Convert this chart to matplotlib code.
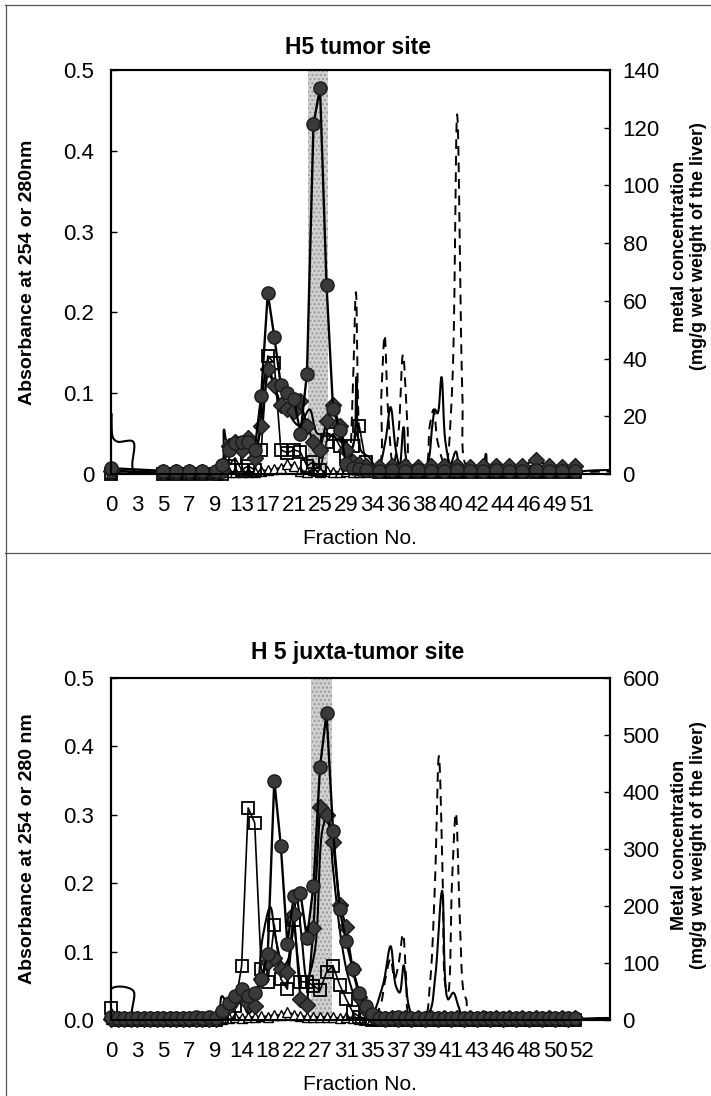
import numpy as np
import matplotlib
matplotlib.use("Agg")
import matplotlib.pyplot as plt
from matplotlib.lines import Line2D

plt.rcParams['font.family'] = ['Liberation Sans', 'DejaVu Sans']

W, H = 711, 1096

# x axis is a category axis: one row per collected tube, a label every 4th row
tick_rows = [0, 4, 8, 12, 16, 20, 24, 28, 32, 36, 40, 44, 48, 52, 56, 60, 64, 68, 72]
top_ticklabels = ['0', '3', '5', '7', '9', '13', '17', '21', '25', '29', '34', '36',
                  '38', '40', '42', '44', '46', '49', '51']
low_ticklabels = ['0', '3', '5', '7', '9', '14', '18', '22', '27', '31', '35', '37',
                  '39', '41', '43', '46', '48', '50', '52']

# ---- H5 tumor site ----
# metal concentration (mg/g wet weight), right axis
top_rows = [0, 8, 10, 12, 14, 16,
            17, 18, 19, 20, 21, 22, 23, 24, 25, 26, 27, 28, 29, 30, 31, 32, 33, 34, 35, 36,
            37, 38,
            39, 41, 43, 45, 47, 49, 51, 53, 55, 57, 59, 61, 63, 65, 67, 69, 71]
top_circle = [2.0, 1.1, 1.1, 1.1, 1.1, 1.1,
              3.1, 8.4, 10.6, 11.2, 11.2, 8.4, 27.2, 62.7, 47.6, 30.8, 28.0, 26.0, 14.0, 34.7,
              121.2, 133.8, 65.5, 22.4, 15.4, 3.4,
              2.0, 1.7,
              1.4, 1.1, 1.4, 1.1, 1.4, 1.1, 1.1, 1.4, 1.1, 1.1, 1.4, 1.1, 1.1, 1.4, 1.1, 1.1, 1.1]
top_diamond = [1.1, 0.6, 0.6, 0.6, 0.6, 0.6,
               1.1, 9.8, 11.2, 8.4, 12.6, 5.6, 16.8, 36.4, 30.8, 23.8, 22.4, 21.8, 25.2, 16.8,
               11.2, 8.4, 18.2, 23.8, 16.8, 8.4,
               4.2, 3.4,
               2.8, 2.5, 2.8, 2.8, 2.5, 2.8, 2.8, 2.8, 2.5, 2.8, 2.8, 2.8, 2.8, 5.0, 2.8, 2.5, 2.8]
top_square = [0.0, 0.0, 0.0, 0.0, 0.0, 0.0,
              0.0, 2.8, 5.6, 1.4, 2.8, 1.4, 8.4, 40.9, 38.4, 8.4, 7.3, 8.4, 7.6, 2.8,
              4.2, 1.4, 11.2, 14.0, 9.8, 5.6,
              9.8, 16.8,
              4.2, 0.6, 0.6, 0.6, 0.6, 0.6, 0.6, 0.6, 0.6, 0.6, 0.6, 0.6, 0.6, 0.6, 0.6, 0.6, 0.6]
top_triangle = [0.3, 0.3, 0.3, 0.3, 0.3, 0.3,
                0.6, 0.6, 0.8, 0.6, 0.8, 0.6, 1.1, 1.4, 1.7, 2.2, 3.6, 2.8, 1.1, 0.8,
                1.4, 0.8, 1.1, 0.8, 0.8, 1.1,
                0.8, 0.6,
                0.6, 0.6, 0.8, 0.6, 0.6, 0.6, 0.8, 0.6, 0.6, 0.6, 0.6, 0.8, 0.6, 0.6, 0.6, 0.6, 0.6]
# absorbance traces, left axis
top_a280_x = [0, 0.05, 0.3, 1, 3.4, 3.5, 8, 16.5, 17.3, 17.8, 20, 22, 23.2, 24, 25.2, 26.8,
              28.8, 30.4, 31.6, 33.2, 35.2, 36.8, 37.6, 38.2, 39.6, 40.8, 42, 42.8, 43.6,
              44.2, 44.8, 45.6, 48, 49.2, 49.6, 50, 50.6, 51.2, 52, 52.8, 53.6, 56.8, 57.4,
              58, 76.4]
top_a280_y = [0.0, 0.075, 0.045, 0.04, 0.04, 0.004, 0.003, 0.003, 0.055, 0.04, 0.04, 0.03,
              0.1, 0.14, 0.1, 0.08, 0.06, 0.08, 0.05, 0.05, 0.04, 0.03, 0.12, 0.03, 0.02,
              0.005, 0.04, 0.083, 0.03, 0.01, 0.058, 0.01, 0.005, 0.06, 0.08, 0.075, 0.12,
              0.04, 0.012, 0.028, 0.008, 0.005, 0.025, 0.005, 0.005]
top_a254_x = [0, 36, 36.4, 37, 37.5, 38, 38.6, 40.8, 41.4, 41.9, 42.4, 43.2, 44, 44.7, 45.4,
              46, 48, 48.8, 49.4, 50, 51.2, 52.2, 53, 53.8, 54.4, 56, 76.4]
top_a254_y = [0.002, 0.004, 0.01, 0.1, 0.225, 0.05, 0.01, 0.005, 0.1, 0.172, 0.08, 0.01,
              0.05, 0.148, 0.06, 0.005, 0.005, 0.06, 0.08, 0.04, 0.01, 0.1, 0.445, 0.1,
              0.01, 0.003, 0.003]
top_band = (30.1, 33.2)

# ---- H 5 juxta-tumor site ----
low_rows = np.arange(72)
low_circle = [4.8, 3.6, 3.6, 3.6, 3.6, 3.6, 3.6, 3.6, 3.6, 3.6, 3.6, 3.6, 3.6, 6.0, 4.0, 6.0, 4.0,
              15.6, 30, 42, 54, 42, 48, 72, 116, 420, 306, 134, 218, 223, 143, 235, 444, 539,
              332, 194, 138, 90, 48, 24, 10,
              3.6, 3.6, 3.6, 4.8, 3.6, 3.6, 3.6, 3.6, 3.6, 3.6, 3.6, 3.6, 3.6, 3.6, 3.6, 3.6,
              3.6, 3.6, 3.6, 3.6, 3.6, 3.6, 3.6, 3.6, 3.6, 3.6, 3.6, 3.6, 3.6, 3.6, 3.6]
low_diamond = [2.4, 2.4, 2.4, 2.4, 2.4, 2.4, 2.4, 2.4, 2.4, 2.4, 2.4, 2.4, 2.4, 2.4, 2.4, 2.4, 2.4,
               12, 24, 36, 42, 30, 24, 72, 102, 108, 90, 84, 186, 36, 26, 162, 374, 359, 312,
               202, 164, 89, 41, 18, 7,
               3.6, 2.4, 3.6, 2.4, 3.6, 2.4, 3.6, 2.4, 3.6, 2.4, 3.6, 2.4, 3.6, 2.4, 3.6, 2.4,
               3.6, 2.4, 3.6, 2.4, 3.6, 2.4, 3.6, 2.4, 3.6, 2.4, 3.6, 2.4, 3.6, 2.4, 3.6]
low_square = [21.6, 0, 0, 0, 0, 0, 0, 0, 0, 0, 0, 0, 0, 0, 0, 0, 0,
              6, 12, 24, 95, 372, 346, 89, 66, 167, 72, 54, 175, 67, 67, 60, 52, 84, 95, 62,
              37, 14, 6, 2, 0,
              0, 0, 0, 0, 0, 0, 0, 0, 0, 0, 0, 0, 0, 0, 0, 0, 0, 0, 0, 0, 0, 0, 0, 0, 0, 0,
              0, 0, 0, 0, 0]
low_triangle = [1.2, 1.2, 1.2, 1.2, 1.2, 1.2, 1.2, 1.2, 1.2, 1.2, 1.2, 1.2, 1.2, 1.2, 1.2, 1.2, 1.2,
                2.4, 3.6, 4.8, 3.6, 6.0, 4.8, 7.2, 6.0, 9.6, 8.4, 14.4, 9.6, 7.2, 6.0, 6.0, 4.8,
                6.0, 4.8, 3.6, 6.0, 3.6, 2.4, 2.4, 1.2,
                1.2, 1.2, 1.2, 1.2, 1.2, 1.2, 1.2, 1.2, 1.2, 1.2, 1.2, 1.2, 1.2, 1.2, 1.2, 1.2,
                1.2, 1.2, 1.2, 1.2, 1.2, 1.2, 1.2, 1.2, 1.2, 1.2, 1.2, 1.2, 1.2, 1.2, 1.2]
low_a280_x = [0, 0.1, 3.4, 3.5, 16, 17, 18, 19, 20, 21, 22, 23.2, 24.4, 25.2, 26.4, 27.2, 28.4,
              29.2, 30, 31.2, 32.4, 33.2, 34, 35.2, 36.4, 38, 39.6, 41.6, 42.8, 43.6, 44.2,
              44.8, 45.6, 46.4, 48.6, 49.6, 50.7, 51.6, 52.4, 53.2, 54, 56.8, 57.4, 58, 76.4]
low_a280_y = [0.002, 0.046, 0.043, 0.002, 0.002, 0.035, 0.02, 0.04, 0.03, 0.01, 0.02, 0.12,
              0.165, 0.12, 0.08, 0.09, 0.177, 0.12, 0.06, 0.1, 0.28, 0.3, 0.22, 0.12, 0.06,
              0.02, 0.004, 0.05, 0.108, 0.05, 0.04, 0.08, 0.02, 0.003, 0.01, 0.06, 0.189,
              0.03, 0.04, 0.02, 0.003, 0.003, 0.012, 0.003, 0.003]
low_a254_x = [0, 40, 41.2, 42, 42.8, 43.4, 44, 44.7, 45.2, 45.8, 48, 48.8, 49.6, 50.2, 50.8,
              51.2, 51.6, 52.2, 52.8, 53.4, 54, 54.4, 55, 76.4]
low_a254_y = [0.001, 0.003, 0.02, 0.06, 0.09, 0.06, 0.08, 0.126, 0.06, 0.005, 0.005, 0.05,
              0.2, 0.386, 0.2, 0.05, 0.04, 0.2, 0.303, 0.15, 0.04, 0.03, 0.005, 0.002]
low_band = (30.6, 33.8)


def smooth(xs, ys, sx, sy, n=10):
    # centripetal Catmull-Rom through the read points (Excel "smoothed line")
    P = np.column_stack([np.asarray(xs, float) / sx, np.asarray(ys, float) / sy])
    P = np.vstack([2 * P[0] - P[1], P, 2 * P[-1] - P[-2]])
    segs = []
    for i in range(1, len(P) - 2):
        p0, p1, p2, p3 = P[i - 1], P[i], P[i + 1], P[i + 2]
        t0 = 0.0
        t1 = t0 + max(np.hypot(*(p1 - p0)), 1e-9) ** 0.5
        t2 = t1 + max(np.hypot(*(p2 - p1)), 1e-9) ** 0.5
        t3 = t2 + max(np.hypot(*(p3 - p2)), 1e-9) ** 0.5
        t = np.linspace(t1, t2, n)[:, None]
        A1 = (t1 - t) / (t1 - t0) * p0 + (t - t0) / (t1 - t0) * p1
        A2 = (t2 - t) / (t2 - t1) * p1 + (t - t1) / (t2 - t1) * p2
        A3 = (t3 - t) / (t3 - t2) * p2 + (t - t2) / (t3 - t2) * p3
        B1 = (t2 - t) / (t2 - t0) * A1 + (t - t0) / (t2 - t0) * A2
        B2 = (t3 - t) / (t3 - t1) * A2 + (t - t1) / (t3 - t1) * A3
        C = (t2 - t) / (t2 - t1) * B1 + (t - t1) / (t2 - t1) * B2
        segs.append(C)
    C = np.vstack(segs)
    return C[:, 0] * sx, np.clip(C[:, 1] * sy, 0, None)


fig = plt.figure(figsize=(W / 100, H / 100), dpi=100)

# scanned page frame
for (x0, y0, x1, y1) in [(5, 5, 711, 5), (6, 5, 6, 1096), (5, 553, 711, 553)]:
    fig.add_artist(Line2D([x0 / W, x1 / W], [1 - y0 / H, 1 - y1 / H],
                          color='#555555', lw=0.9, transform=fig.transFigure))


def panel(top, bottom, title, title_y, rows, circ, diam, sq, tri,
          a280x, a280y, a254x, a254y, band, ticklabels, rmax, rstep,
          ylab_left, ylab_right, zero_label, rlab_y):
    left, right = 111, 610
    ax = fig.add_axes([left / W, 1 - bottom / H, (right - left) / W, (bottom - top) / H])
    xmax = 76.4
    sx = xmax / (right - left)
    sy = 0.5 / (bottom - top)

    ax.axvspan(band[0], band[1], facecolor='#d0d0d0', edgecolor='#9a9a9a',
               hatch='....', lw=0, zorder=0)
    x, y = smooth(a280x, a280y, sx, sy)
    ax.plot(x, y, color='black', lw=1.5, zorder=2)
    x, y = smooth(a254x, a254y, sx, sy)
    ax.plot(x, y, color='black', lw=1.4, dashes=(5, 3.5), zorder=2)

    ax.set_xlim(0, xmax)
    ax.set_ylim(0, 0.5)
    ax.set_yticks([0, 0.1, 0.2, 0.3, 0.4, 0.5])
    ax.set_yticklabels([zero_label, '0.1', '0.2', '0.3', '0.4', '0.5'])
    ax.set_xticks(tick_rows)
    ax.set_xticklabels(ticklabels)
    ax.tick_params(axis='x', length=0, pad=15, labelsize=16)
    ax.tick_params(axis='y', direction='in', length=4, width=1, pad=12, labelsize=16)
    for s in ax.spines.values():
        s.set_linewidth(1.5)

    ax2 = ax.twinx()
    ax2.set_ylim(0, rmax)
    ax2.set_yticks(np.arange(0, rmax + 1, rstep))
    ax2.tick_params(axis='y', direction='in', length=4, width=1, pad=9, labelsize=16)
    ax2.plot(rows, tri, color='black', lw=1.2, marker='^', ms=7, mfc='white',
             mec='black', mew=1.0, clip_on=False)
    ax2.plot(rows, sq, color='black', lw=1.2, marker='s', ms=9, mfc='none',
             mec='black', mew=1.3, clip_on=False)
    ax2.plot(rows, diam, color='black', lw=1.6, marker='D', ms=8, mfc='#3a3a3a',
             mec='#1a1a1a', mew=1.0, clip_on=False)
    ax2.plot(rows, circ, color='black', lw=1.7, marker='o', ms=9.5, mfc='#3a3a3a',
             mec='#1a1a1a', mew=1.0, clip_on=False)
    for s in ax2.spines.values():
        s.set_linewidth(1.5)

    fig.text(358 / W, 1 - title_y / H, title, ha='center', va='center',
             fontsize=16.5, fontweight='bold')
    fig.text(360 / W, 1 - (bottom + 64) / H, 'Fraction No.', ha='center', va='center',
             fontsize=15)
    fig.text(28 / W, 1 - (top + bottom) / 2 / H, ylab_left, ha='center', va='center',
             rotation=90, fontsize=14, fontweight='bold')
    fig.text(689 / W, 1 - rlab_y / H, ylab_right, ha='center', va='center',
             rotation=90, fontsize=13, fontweight='bold', linespacing=1.1)
    return ax, ax2


panel(70, 474, 'H5 tumor site', 47, top_rows, top_circle, top_diamond, top_square,
      top_triangle, top_a280_x, top_a280_y, top_a254_x, top_a254_y, top_band,
      top_ticklabels, 140, 20, 'Absorbance at 254 or 280nm',
      'metal concentration\n(mg/g wet weight of the liver)', '0', 246)

panel(678, 1020, 'H 5 juxta-tumor site', 652, low_rows, low_circle, low_diamond,
      low_square, low_triangle, low_a280_x, low_a280_y, low_a254_x, low_a254_y,
      low_band, low_ticklabels, 600, 100, 'Absorbance at 254 or 280 nm',
      'Metal concentration\n(mg/g wet weight of the liver)', '0.0', 845)

fig.savefig('out.png', dpi=100)
